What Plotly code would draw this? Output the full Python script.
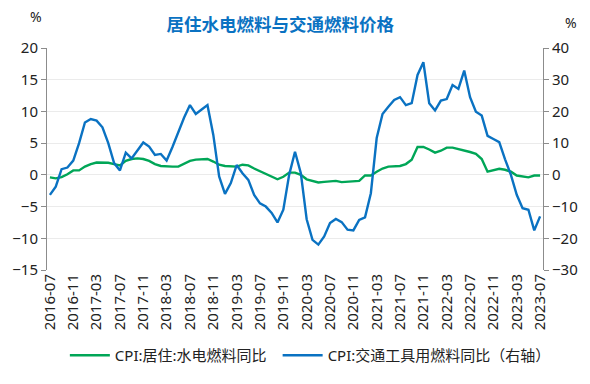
import pandas as pd
import plotly.graph_objects as go

months = [p.strftime("%Y-%m") for p in pd.period_range("2016-07", "2023-07", freq="M")]

housing_fuel = [
    -0.4, -0.55, -0.35, 0.1, 0.7, 0.7, 1.3, 1.7, 1.95, 1.95,
    1.9, 1.7, 1.5, 2.2, 2.5, 2.6, 2.5, 2.2, 1.7, 1.4,
    1.3, 1.3, 1.3, 1.8, 2.2, 2.4, 2.5, 2.5, 2.1, 1.6,
    1.4, 1.3, 1.3, 1.6, 1.5, 1.0, 0.6, 0.2, -0.3, -0.7,
    -0.3, 0.35, 0.35, 0.0, -0.7, -1.0, -1.2, -1.1, -1.0, -0.95,
    -1.15, -1.05, -0.95, -0.95, -0.1, -0.1, 0.5, 1.0, 1.3, 1.3,
    1.4, 1.7, 2.4, 4.4, 4.4, 4.0, 3.5, 3.8, 4.3, 4.3,
    4.1, 3.9, 3.6, 3.3, 2.5, 0.5, 0.7, 0.95, 0.8, 0.5,
    -0.1, -0.2, -0.4, -0.1, -0.1,
]

transport_fuel = [
    -6.3, -3.7, 1.8, 2.3, 4.5, 10.0, 16.5, 17.6, 17.1, 15.0,
    10.0, 3.7, 1.4, 7.0, 5.2, 7.7, 10.2, 8.9, 6.3, 6.6,
    4.5, 8.8, 13.4, 18.1, 22.0, 19.2, 20.6, 22.0, 12.6, -0.5,
    -6.0, -2.6, 3.1, 0.5, -1.6, -6.3, -9.0, -10.0, -12.0, -15.0,
    -11.0, 0.0, 7.3, 0.5, -14.0, -20.5, -22.0, -19.4, -15.2, -13.9,
    -14.9, -17.3, -17.5, -14.2, -13.4, -5.8, 11.6, 19.2, 21.5, 23.6,
    24.5, 22.0, 22.6, 31.5, 35.5, 22.6, 20.3, 23.4, 23.9, 28.3,
    27.1, 32.9, 24.5, 19.9, 18.7, 12.3, 11.3, 10.3, 4.9, 0.0,
    -6.3, -10.5, -11.0, -17.5, -13.1,
]

name_housing = "CPI:居住:水电燃料同比"
name_transport = "CPI:交通工具用燃料同比（右轴）"
title_text = "居住水电燃料与交通燃料价格"
tick_labels = months[::4]

GREEN = "#00A657"
BLUE = "#0A72C2"
AXIS = "#8C8C8C"
TEXT = "#222222"
FONT = "Noto Sans, Noto Sans CJK SC, sans-serif"

fig = go.Figure()
fig.add_trace(go.Scatter(x=months, y=housing_fuel, name=name_housing, mode="lines",
                         line=dict(color=GREEN, width=2.4), xaxis="x", yaxis="y",
                         legend="legend"))
fig.add_trace(go.Scatter(x=months, y=transport_fuel, name=name_transport, mode="lines",
                         line=dict(color=BLUE, width=2.4), xaxis="x", yaxis="y2",
                         legend="legend2"))

n = len(months)
legend_style = dict(orientation="h", xanchor="left", y=-0.385, yanchor="middle",
                    font=dict(size=15, color=TEXT), itemwidth=40, bgcolor="rgba(0,0,0,0)")
fig.update_layout(
    width=590, height=384,
    margin=dict(l=46, r=41, t=48, b=114),
    paper_bgcolor="white", plot_bgcolor="white",
    font=dict(family=FONT, size=15, color=TEXT),
    title=dict(text="<b>" + title_text + "</b>", xref="container", yref="container",
               x=0.475, y=1 - 25 / 384, xanchor="center", yanchor="middle",
               font=dict(size=17.5, color=BLUE, family=FONT)),
    showlegend=True,
    legend=dict(x=0.036, **legend_style),
    legend2=dict(x=0.465, **legend_style),
    xaxis=dict(type="category", categoryorder="array", categoryarray=months,
               range=[-0.5, n - 0.5], tickmode="array", tickvals=tick_labels,
               ticktext=tick_labels, tickangle=-90, showline=False, ticks="",
               showgrid=False, zeroline=False, tickfont=dict(size=15, color=TEXT)),
    xaxis2=dict(type="linear", range=[-0.5, n - 0.5], overlaying="x", anchor="free",
                position=15 / 35, tickmode="linear", tick0=-0.5, dtick=4,
                ticks="outside", ticklen=5, tickcolor=AXIS, showticklabels=False,
                showline=True, linecolor=AXIS, linewidth=1, showgrid=False, zeroline=False),
    yaxis=dict(range=[-15, 20], dtick=5, showline=True, linecolor=AXIS, linewidth=1,
               ticks="outside", ticklen=5, tickcolor=AXIS, showgrid=True,
               gridcolor="#EBEBEB", gridwidth=1, zeroline=False,
               tickfont=dict(size=15, color=TEXT)),
    yaxis2=dict(range=[-30, 40], dtick=10, overlaying="y", side="right", anchor="x",
                showline=True, linecolor=AXIS, linewidth=1, ticks="outside", ticklen=5,
                tickcolor=AXIS, showgrid=False, zeroline=False,
                tickfont=dict(size=15, color=TEXT)),
    annotations=[
        dict(text="%", xref="paper", yref="paper", x=-0.022, y=1.14, showarrow=False,
             xanchor="center", yanchor="middle", font=dict(size=14, color=TEXT)),
        dict(text="%", xref="paper", yref="paper", x=1.057, y=1.117, showarrow=False,
             xanchor="center", yanchor="middle", font=dict(size=14, color=TEXT)),
    ],
)

fig.write_html(
    "out.html",
    config={"displayModeBar": False},
    post_script="document.body.style.margin='0';document.body.style.overflow='hidden';",
)
